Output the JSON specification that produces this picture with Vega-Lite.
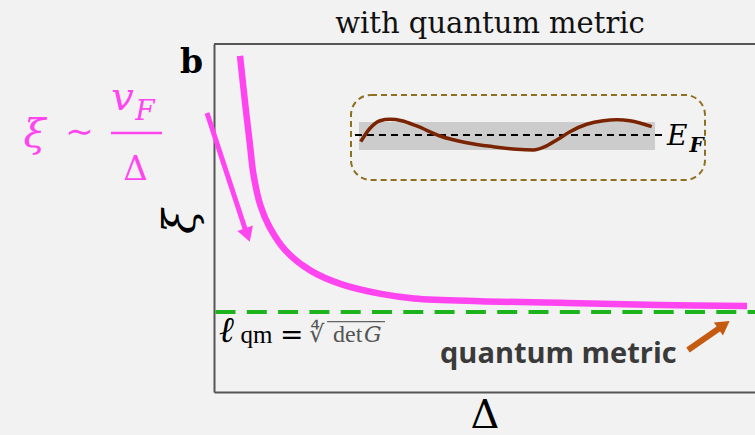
{
  "$schema": "https://vega.github.io/schema/vega-lite/v6.json",
  "width": 541,
  "height": 348,
  "autosize": {"type": "none"},
  "padding": {"left": 214, "top": 44, "right": 0, "bottom": 43},
  "background": "#f2f2f2",
  "config": {
    "view": {"stroke": null},
    "axis": {"domainColor": "#555", "domainWidth": 2, "ticks": false, "labels": false, "grid": false}
  },
  "datasets": {
    "curve": [
      {"d": 4.81, "v": 96.6}, {"d": 5.91, "v": 80.8}, {"d": 6.65, "v": 71.0}, {"d": 7.30, "v": 62.5},
      {"d": 8.60, "v": 53.5}, {"d": 10.30, "v": 47.3}, {"d": 13.31, "v": 40.5}, {"d": 17.93, "v": 34.8},
      {"d": 23.48, "v": 31.0}, {"d": 30.87, "v": 28.2}, {"d": 36.97, "v": 26.9}, {"d": 49.17, "v": 26.1},
      {"d": 65.25, "v": 25.6}, {"d": 82.44, "v": 25.0}, {"d": 98.52, "v": 24.7}
    ],
    "band": [
      {"d": 27.12, "v": 71.93}, {"d": 28.84, "v": 75.78}, {"d": 30.68, "v": 77.96}, {"d": 32.53, "v": 78.36},
      {"d": 34.70, "v": 77.96}, {"d": 37.46, "v": 76.44}, {"d": 41.77, "v": 73.56}, {"d": 46.70, "v": 71.64},
      {"d": 51.63, "v": 70.49}, {"d": 55.95, "v": 69.74}, {"d": 59.02, "v": 69.54}, {"d": 61.18, "v": 70.49},
      {"d": 63.35, "v": 72.41}, {"d": 65.80, "v": 74.80}, {"d": 68.89, "v": 76.93}, {"d": 71.96, "v": 77.96},
      {"d": 74.44, "v": 78.25}, {"d": 76.89, "v": 77.96}, {"d": 80.91, "v": 76.24}
    ]
  },
  "encoding": {
    "x": {"field": "d", "type": "quantitative", "scale": {"domain": [0, 100], "nice": false, "zero": false},
      "axis": {"title": "Δ", "orient": "bottom", "titleFont": "DejaVu Serif", "titleFontSize": 40, "titleFontWeight": "normal", "titleColor": "#000", "titlePadding": 3}},
    "y": {"field": "v", "type": "quantitative", "scale": {"domain": [0, 100], "nice": false, "zero": false},
      "axis": {"title": "ξ", "orient": "left", "titleFont": "DejaVu Serif", "titleFontSize": 45, "titleFontStyle": "italic", "titleFontWeight": "normal", "titleColor": "#000", "titlePadding": 11, "titleY": 177}}
  },
  "layer": [
    {
      "data": {"values": [{"d": 0, "d2": 100, "v": 100}]},
      "mark": {"type": "rule", "stroke": "#555", "strokeWidth": 2},
      "encoding": {"x2": {"field": "d2"}}
    },
    {
      "data": {"values": [{"d": 51.02, "v": 103.16, "t": "with quantum metric"}]},
      "mark": {"type": "text", "font": "DejaVu Serif", "fontSize": 29, "align": "center", "baseline": "alphabetic", "color": "#111"},
      "encoding": {"text": {"field": "t"}}
    },
    {
      "data": {"values": [{"d": 25.32, "d2": 90.76, "v": 60.92, "v2": 85.34}]},
      "mark": {"type": "rect", "fill": "transparent", "stroke": "#8f7020", "strokeWidth": 2, "strokeDash": [6, 4], "cornerRadius": 20},
      "encoding": {"x2": {"field": "d2"}, "y2": {"field": "v2"}}
    },
    {
      "data": {"values": [{"d": 26.8, "d2": 81.52, "v": 69.54, "v2": 77.59}]},
      "mark": {"type": "rect", "fill": "#cccccc"},
      "encoding": {"x2": {"field": "d2"}, "y2": {"field": "v2"}}
    },
    {
      "data": {"values": [{"d": 26.06, "d2": 83.36, "v": 73.85}]},
      "mark": {"type": "rule", "stroke": "#000", "strokeWidth": 2, "strokeDash": [7, 5]},
      "encoding": {"x2": {"field": "d2"}}
    },
    {
      "data": {"name": "band"},
      "mark": {"type": "line", "stroke": "#7a2300", "strokeWidth": 3.5, "interpolate": "monotone"},
      "encoding": {}
    },
    {
      "data": {"values": [{"d": 0, "d2": 100, "v": 23}]},
      "mark": {"type": "rule", "stroke": "#1db31d", "strokeWidth": 4, "strokeDash": [20, 11.3], "strokeDashOffset": -1.5},
      "encoding": {"x2": {"field": "d2"}}
    },
    {
      "data": {"name": "curve"},
      "mark": {"type": "line", "stroke": "#ff45ef", "strokeWidth": 6.5, "interpolate": "catmull-rom"},
      "encoding": {}
    },
    {
      "data": {"values": [{"d": -1.29, "v": 80.17, "d2": 6.0, "v2": 45.7}]},
      "mark": {"type": "rule", "stroke": "#ff45ef", "strokeWidth": 5},
      "encoding": {"x2": {"field": "d2"}, "y2": {"field": "v2"}}
    },
    {
      "data": {"values": [{"d": 6.19, "v": 45.11}]},
      "mark": {"type": "point", "shape": "triangle-up", "filled": true, "color": "#ff45ef", "opacity": 1, "size": 270, "angle": 161},
      "encoding": {}
    },
    {
      "data": {"values": [{"d": 87.62, "v": 12.07, "d2": 94.27, "v2": 19.25}]},
      "mark": {"type": "rule", "stroke": "#c55a11", "strokeWidth": 6},
      "encoding": {"x2": {"field": "d2"}, "y2": {"field": "v2"}}
    },
    {
      "data": {"values": [{"d": 94.27, "v": 19.25}]},
      "mark": {"type": "point", "shape": "triangle-up", "filled": true, "color": "#c55a11", "opacity": 1, "size": 250, "angle": 55},
      "encoding": {}
    },
    {
      "data": {"values": [{"d": -19.04, "d2": -9.61, "v": 74.43}]},
      "mark": {"type": "rule", "stroke": "#ff45ef", "strokeWidth": 2.5},
      "encoding": {"x2": {"field": "d2"}}
    },
    {
      "data": {"values": [{"d": -6.28, "v": 91.67, "t": "b"}]},
      "mark": {"type": "text", "font": "DejaVu Serif", "fontSize": 33, "fontWeight": "bold", "align": "left", "baseline": "alphabetic", "color": "#000"},
      "encoding": {"text": {"field": "t"}}
    },
    {
      "data": {"values": [{"d": -33.18, "v": 70.4, "t": "ξ"}, {"d": -16.91, "v": 81.03, "t": "v"}]},
      "mark": {"type": "text", "font": "DejaVu Serif", "fontSize": 40, "fontStyle": "italic", "align": "center", "baseline": "alphabetic", "color": "#ff45ef"},
      "encoding": {"text": {"field": "t"}}
    },
    {
      "data": {"values": [{"d": -24.86, "v": 74.43, "t": "∼"}]},
      "mark": {"type": "text", "font": "DejaVu Sans", "fontSize": 34, "align": "center", "baseline": "middle", "color": "#ff45ef"},
      "encoding": {"text": {"field": "t"}}
    },
    {
      "data": {"values": [{"d": -12.75, "v": 78.16, "t": "F"}]},
      "mark": {"type": "text", "font": "DejaVu Serif", "fontSize": 28, "fontStyle": "italic", "align": "center", "baseline": "alphabetic", "color": "#ff45ef"},
      "encoding": {"text": {"field": "t"}}
    },
    {
      "data": {"values": [{"d": -14.51, "v": 60.92, "t": "Δ"}]},
      "mark": {"type": "text", "font": "DejaVu Serif", "fontSize": 34, "align": "center", "baseline": "alphabetic", "color": "#ff45ef"},
      "encoding": {"text": {"field": "t"}}
    },
    {
      "data": {"values": [{"d": 83.73, "v": 70.98, "t": "E"}]},
      "mark": {"type": "text", "font": "DejaVu Serif", "fontSize": 28, "fontStyle": "italic", "align": "left", "baseline": "alphabetic", "color": "#000"},
      "encoding": {"text": {"field": "t"}}
    },
    {
      "data": {"values": [{"d": 87.9, "v": 68.97, "t": "F"}]},
      "mark": {"type": "text", "font": "DejaVu Serif", "fontSize": 20, "fontStyle": "italic", "fontWeight": "bold", "align": "left", "baseline": "alphabetic", "color": "#000"},
      "encoding": {"text": {"field": "t"}}
    },
    {
      "data": {"values": [{"d": 1.0, "v": 14.37, "t": "ℓ"}]},
      "mark": {"type": "text", "font": "DejaVu Serif", "fontSize": 36, "fontStyle": "italic", "fontWeight": "bold", "align": "left", "baseline": "alphabetic", "color": "#000"},
      "encoding": {"text": {"field": "t"}}
    },
    {
      "data": {"values": [{"d": 4.9, "v": 14.08, "t": "qm"}]},
      "mark": {"type": "text", "font": "Liberation Serif", "fontSize": 25, "align": "left", "baseline": "alphabetic", "color": "#000"},
      "encoding": {"text": {"field": "t"}}
    },
    {
      "data": {"values": [{"d": 12.2, "v": 13.79, "t": "="}]},
      "mark": {"type": "text", "font": "DejaVu Serif", "fontSize": 28, "align": "left", "baseline": "alphabetic", "color": "#000"},
      "encoding": {"text": {"field": "t"}}
    },
    {
      "data": {"values": [{"d": 17.56, "v": 14.37, "t": "∜"}]},
      "mark": {"type": "text", "font": "DejaVu Sans", "fontSize": 24, "align": "left", "baseline": "alphabetic", "color": "#555"},
      "encoding": {"text": {"field": "t"}}
    },
    {
      "data": {"values": [{"d": 20.9, "d2": 31.61, "v": 20.2}]},
      "mark": {"type": "rule", "stroke": "#666", "strokeWidth": 1.2},
      "encoding": {"x2": {"field": "d2"}}
    },
    {
      "data": {"values": [{"d": 22.0, "v": 14.37, "t": "det"}]},
      "mark": {"type": "text", "font": "Liberation Serif", "fontSize": 24, "align": "left", "baseline": "alphabetic", "color": "#555"},
      "encoding": {"text": {"field": "t"}}
    },
    {
      "data": {"values": [{"d": 27.73, "v": 14.37, "t": "G̅"}]},
      "mark": {"type": "text", "font": "DejaVu Serif", "fontSize": 22, "fontStyle": "italic", "align": "left", "baseline": "alphabetic", "color": "#555"},
      "encoding": {"text": {"field": "t"}}
    },
    {
      "data": {"values": [{"d": 41.77, "v": 8.33, "t": "quantum metric"}]},
      "mark": {"type": "text", "font": "Open Sans", "fontSize": 29, "fontWeight": "bold", "align": "left", "baseline": "alphabetic", "color": "#3a3a3a"},
      "encoding": {"text": {"field": "t"}}
    }
  ]
}
